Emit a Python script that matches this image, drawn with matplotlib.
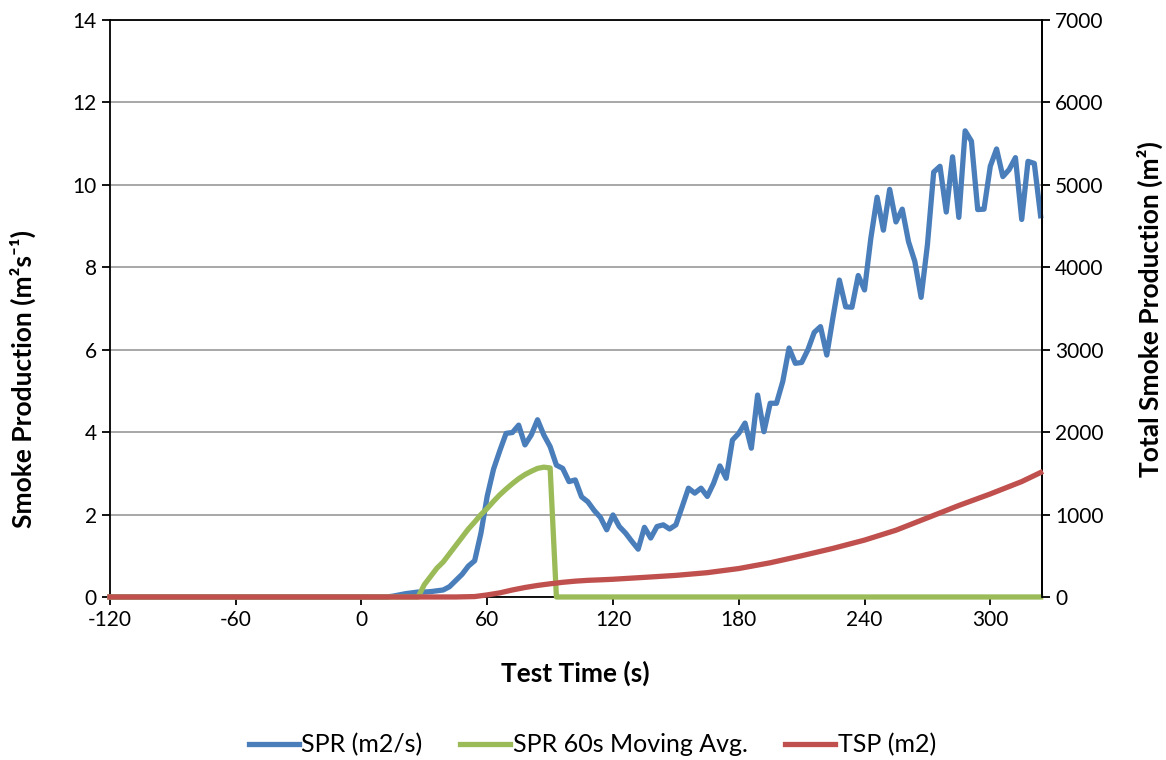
import matplotlib
matplotlib.use("Agg")
import matplotlib.pyplot as plt

plt.rcParams["font.family"] = ["Lato", "DejaVu Sans"]
plt.rcParams["axes.unicode_minus"] = False

# SPR sampled every 3 s from 0 to 324 s (flat zero before the test)
spr_time = [-120] + list(range(0, 325, 3))
spr = [0.0,
       0.0, 0.0, 0.0, 0.0, 0.0, 0.02, 0.05, 0.08, 0.1, 0.12,
       0.12, 0.13, 0.15, 0.17, 0.25, 0.4, 0.55, 0.75, 0.88, 1.55,
       2.45, 3.1, 3.55, 3.97, 3.99, 4.17, 3.69, 3.93, 4.3, 3.93,
       3.65, 3.2, 3.12, 2.8, 2.84, 2.43, 2.31, 2.1, 1.93, 1.63,
       1.99, 1.71, 1.55, 1.35, 1.16, 1.69, 1.43, 1.71, 1.75, 1.65,
       1.75, 2.19, 2.64, 2.52, 2.64, 2.44, 2.76, 3.18, 2.88, 3.81,
       3.97, 4.22, 3.61, 4.9, 4.01, 4.7, 4.7, 5.23, 6.04, 5.67,
       5.69, 6.0, 6.42, 6.56, 5.87, 6.8, 7.69, 7.04, 7.03, 7.8,
       7.45, 8.7, 9.7, 8.9, 9.89, 9.1, 9.41, 8.62, 8.14, 7.27,
       8.54, 10.31, 10.45, 9.34, 10.68, 9.21, 11.31, 11.06, 9.4, 9.41,
       10.45, 10.87, 10.2, 10.37, 10.66, 9.16, 10.57, 10.52, 9.25]

# 60 s moving average
avg_time = [-120, 27, 30, 33, 36, 39, 42, 45, 48, 51, 54, 57, 60, 63, 66,
            69, 72, 75, 78, 81, 84, 87, 90, 93, 324]
spr_avg = [0.0, 0.0, 0.3, 0.5, 0.7, 0.85, 1.05, 1.25, 1.45, 1.65, 1.82, 2.0,
           2.15, 2.32, 2.48, 2.62, 2.75, 2.87, 2.97, 3.05, 3.12, 3.15, 3.13,
           0.0, 0.0]

# total smoke production (right axis)
tsp_time = [-120, 45, 54, 60, 66, 72, 78, 84, 90, 96, 102, 108, 114, 120,
            135, 150, 165, 180, 195, 210, 225, 240, 255, 270, 285, 300, 315, 324]
tsp = [0, 0, 5, 25, 50, 85, 115, 140, 160, 178, 192, 202, 208, 215,
       238, 262, 295, 345, 415, 500, 590, 690, 810, 960, 1110, 1250, 1400, 1510]

x_ticks = [-120, -60, 0, 60, 120, 180, 240, 300]

blue = "#4A7EBB"
green = "#9BBB59"
red = "#C0504D"

fig = plt.figure(figsize=(11.66, 7.6), dpi=100)
ax = fig.add_axes([0.0943, 0.2145, 0.7994, 0.7592])
ax2 = ax.twinx()

l1, = ax.plot(spr_time, spr, color=blue, lw=3.8, label="SPR (m2/s)",
              solid_joinstyle="round", zorder=3, clip_on=False)
l2, = ax.plot(avg_time, spr_avg, color=green, lw=3.8, label="SPR 60s Moving Avg.",
              zorder=3, clip_on=False)
l3, = ax2.plot(tsp_time, tsp, color=red, lw=3.8, label="TSP (m2)",
               zorder=3, clip_on=False)

ax.set_xlim(-120, 324.7)
ax.set_ylim(0, 14)
ax2.set_ylim(0, 7000)
ax.set_xticks(x_ticks)
ax.set_yticks(range(0, 15, 2))
ax2.set_yticks(range(0, 7001, 1000))

ax.grid(axis="y", color="#A0A0A0", lw=1.3)
ax.set_axisbelow(True)
for a in (ax, ax2):
    for s in a.spines.values():
        s.set_color("black")
        s.set_linewidth(1.3)
    a.tick_params(labelsize=15, length=6, width=1.3, direction="out")
for side in ("left", "bottom", "top"):
    ax2.spines[side].set_visible(False)

ax.set_xlabel("Test Time (s)", fontsize=19, fontweight="bold", va="center")
ax.set_ylabel("Smoke Production (m²s⁻¹)", fontsize=19, fontweight="bold", va="center")
ax2.set_ylabel("Total Smoke Production (m²)", fontsize=19, fontweight="bold", va="center")
ax.xaxis.set_label_coords(0.499, -0.132)
ax.yaxis.set_label_coords(-0.0933, 0.378)
ax2.yaxis.set_label_coords(1.116, 0.499)

fig.legend(handles=[l1, l2, l3], loc="center", bbox_to_anchor=(0.508, 0.02),
           ncol=3, frameon=False, fontsize=18, handlelength=2.0,
           handletextpad=0.1, columnspacing=1.5)

fig.savefig("out.png", dpi=100)
